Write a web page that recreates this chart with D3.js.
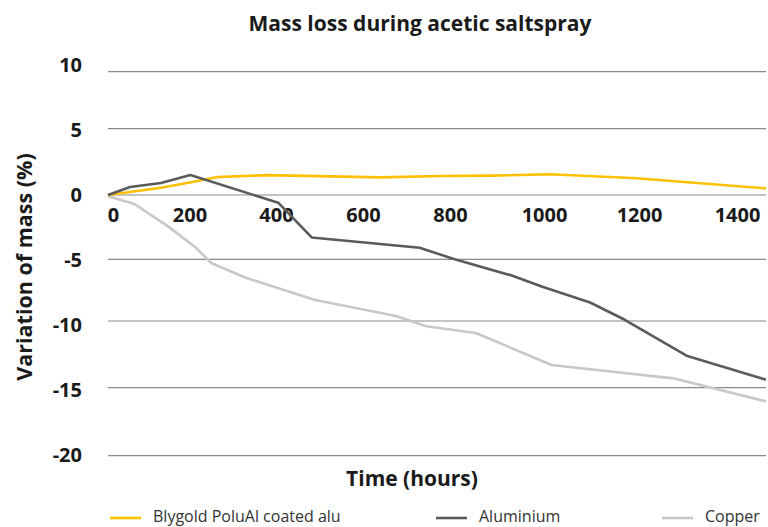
<!DOCTYPE html>
<html><head><meta charset="utf-8">
<script src="https://cdn.jsdelivr.net/npm/d3@7"></script>
<style>
html,body{margin:0;padding:0;background:#fff;}
svg{display:block;font-family:"Open Sans",sans-serif;}
</style></head>
<body><svg id="c" width="768" height="527"></svg>
<script>
// ---- data ----
const seriesNames = ["Blygold PoluAl coated alu", "Aluminium", "Copper"];
const seriesColors = ["#FFC000", "#5B5B5B", "#C8C8C8"];
const goldHours = [0, 130, 210, 265, 380, 640, 780, 890, 1013, 1195, 1460];
const goldMass  = [0, 0.55, 1.0, 1.35, 1.5, 1.33, 1.43, 1.46, 1.56, 1.26, 0.5];
const aluHours = [0, 54, 130, 202, 405, 482, 730, 810, 930, 995, 1097, 1170, 1297, 1460];
const aluMass  = [0, 0.6, 0.9, 1.5, -0.6, -3.3, -4.1, -5.0, -6.3, -7.2, -8.5, -9.9, -12.6, -14.4];
const cuHours = [0, 65, 150, 215, 250, 330, 490, 676, 745, 855, 1016, 1270, 1460];
const cuMass  = [-0.1, -0.7, -2.5, -4.1, -5.3, -6.5, -8.3, -9.6, -10.4, -10.9, -13.3, -14.3, -16.0];
const xTicks = [0, 200, 400, 600, 800, 1000, 1200, 1400];
const yTicks = [10, 5, 0, -5, -10, -15, -20];

const svg = d3.select("#c");
const x = d3.scaleLinear()
  .domain([0, 200, 400, 600, 800, 1000, 1200, 1400, 1460])
  .range([108, 189.5, 276, 363, 450, 544, 639, 737, 766]);
const y = d3.scaleLinear()
  .domain([10, 5, 0, -5, -10, -15, -20])
  .range([71.7, 128.7, 195, 259.3, 321, 387.7, 455.7]);
const yLab = d3.scaleLinear().domain([10, -20]).range([65.5, 455]);

// gridlines
svg.append("g").selectAll("line").data(yTicks).join("line")
  .attr("x1", x(0)).attr("x2", x(1460))
  .attr("y1", d => y(d)).attr("y2", d => y(d))
  .attr("stroke", "#8a8a8a").attr("stroke-width", 1.2);

// y labels
const ya = svg.append("g").attr("transform", "translate(82,0)")
  .call(d3.axisLeft(yLab).tickValues(yTicks).tickSize(0).tickPadding(0).tickFormat(d => String(d)));
ya.select(".domain").remove();
ya.selectAll("text").attr("font-family", "Open Sans").attr("font-weight", "bold")
  .attr("font-size", 20).attr("fill", "#1a1a1a");

// x labels
const xa = svg.append("g").attr("transform", "translate(0,216)")
  .call(d3.axisBottom(x).tickValues(xTicks).tickSize(0).tickPadding(0).tickFormat(d => String(d)));
xa.select(".domain").remove();
xa.selectAll("text").attr("font-family", "Open Sans").attr("font-weight", "bold")
  .attr("font-size", 20).attr("fill", "#1a1a1a").attr("dy", "0.32em")
  .attr("dx", d => d === 0 ? 5 : 0);

// lines
const line = d3.line().x(d => x(d[0])).y(d => y(d[1]));
const series = [
  d3.zip(goldHours, goldMass),
  d3.zip(aluHours, aluMass),
  d3.zip(cuHours, cuMass)
];
const order = [2, 0, 1];
order.forEach(i => {
  svg.append("path").datum(series[i]).attr("d", line)
    .attr("fill", "none").attr("stroke", seriesColors[i]).attr("stroke-width", 2.6)
    .attr("stroke-linejoin", "round");
});

// titles
svg.append("text").attr("x", 420).attr("y", 25).attr("text-anchor", "middle")
  .attr("dominant-baseline", "middle").attr("font-weight", "bold").attr("font-size", 21)
  .attr("fill", "#1a1a1a").text("Mass loss during acetic saltspray");
svg.append("text").attr("x", 412).attr("y", 480).attr("text-anchor", "middle")
  .attr("dominant-baseline", "middle").attr("font-weight", "bold").attr("font-size", 21)
  .attr("fill", "#1a1a1a").text("Time (hours)");
svg.append("text").attr("transform", "translate(26,267) rotate(-90)").attr("text-anchor", "middle")
  .attr("dominant-baseline", "middle").attr("font-weight", "bold").attr("font-size", 21.5)
  .attr("fill", "#1a1a1a").text("Variation of mass (%)");

// legend
const legX = [110, 436, 662];
const lg = svg.append("g").selectAll("g").data(seriesNames).join("g")
  .attr("transform", (d, i) => `translate(${legX[i]},518)`);
lg.append("line").attr("x1", 0).attr("x2", 31).attr("y1", 0).attr("y2", 0)
  .attr("stroke", (d, i) => seriesColors[i]).attr("stroke-width", 2.6);
lg.append("text").attr("x", 43).attr("y", 0).attr("dominant-baseline", "middle")
  .attr("font-size", 16).attr("fill", "#333").text(d => d);
</script></body></html>
